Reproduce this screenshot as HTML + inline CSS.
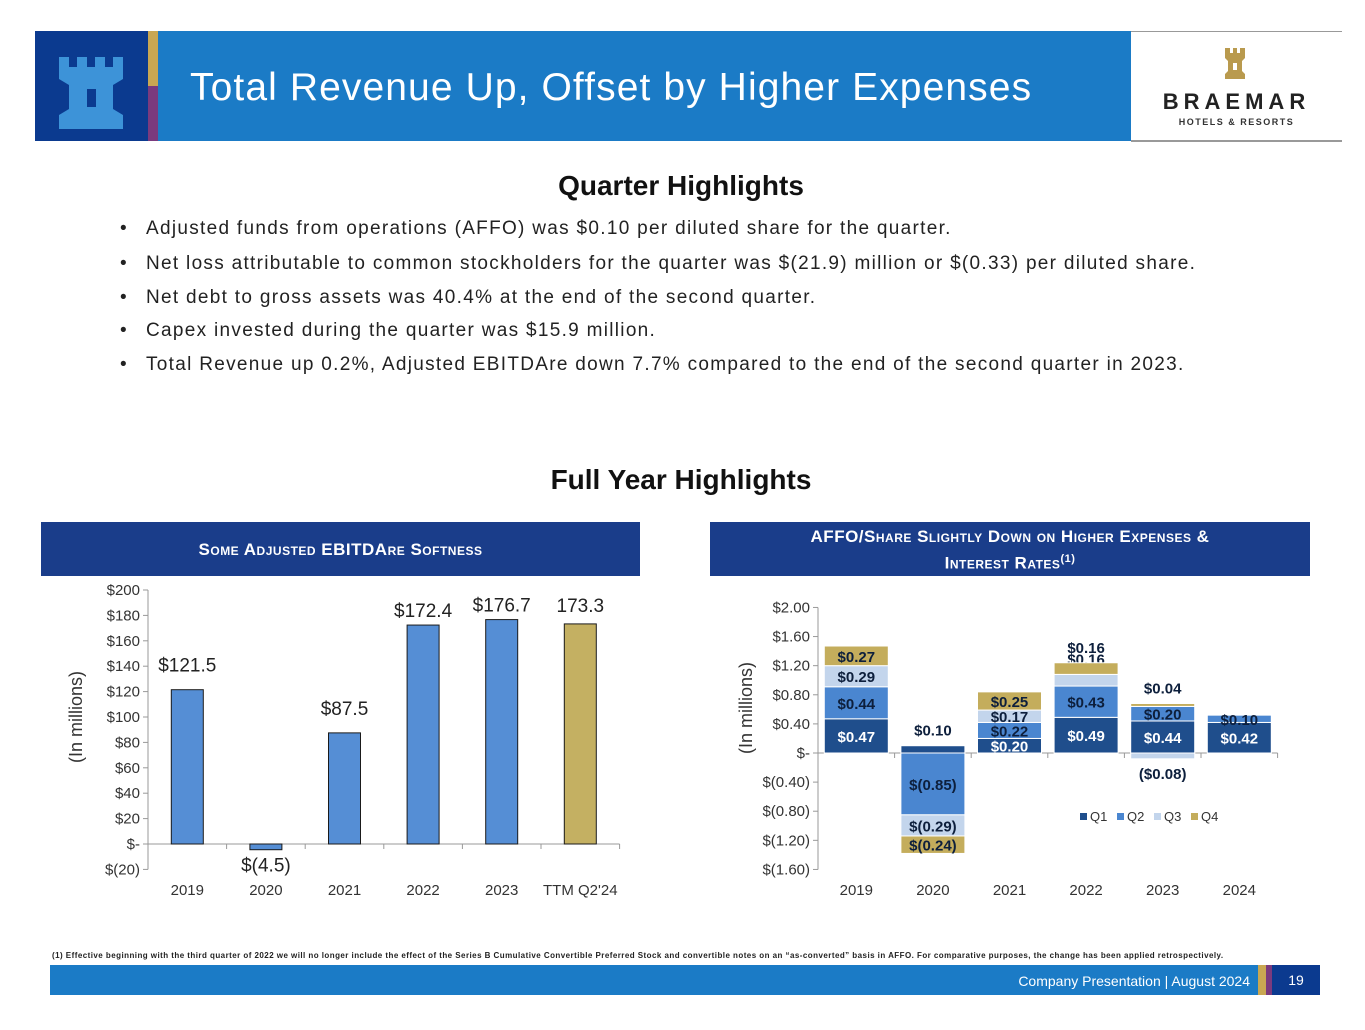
<!DOCTYPE html>
<html><head><meta charset="utf-8">
<style>
body{margin:0;width:1365px;height:1030px;background:#fff;position:relative;overflow:hidden;font-family:"Liberation Sans",sans-serif;}
.abs{position:absolute;}
.bul{position:absolute;left:120px;font-size:19px;color:#222;white-space:nowrap;}
.bul span{position:absolute;left:26px;letter-spacing:1.3px;}
.sec{position:absolute;background:#1a3d8a;color:#fff;font-weight:bold;text-align:center;font-size:17px;font-variant:small-caps;letter-spacing:0.5px;}
</style></head><body>
<div class="abs" style="left:35px;top:31px;width:113px;height:110px;background:#0b3a8f;">
<svg width="113" height="110"><path d="M24 26h10v10h8v-10h10v10h8v-10h10v10h8v-10h10v22l-10 6v24l10 6v14H24V84l10-6V54l-10-6z" fill="#3d93d8"/><rect x="52" y="58" width="9" height="18" fill="#0b3a8f"/></svg></div>
<div class="abs" style="left:148px;top:31px;width:10px;height:55px;background:#c9a752;"></div>
<div class="abs" style="left:148px;top:86px;width:10px;height:55px;background:#7a3a7e;"></div>
<div class="abs" style="left:158px;top:31px;width:973px;height:110px;background:#1b7bc6;"></div>
<div class="abs" style="left:190px;top:66px;font-size:39px;color:#fff;white-space:nowrap;letter-spacing:1.1px;">Total Revenue Up, Offset by Higher Expenses</div>
<div class="abs" style="left:1131px;top:31px;width:211px;height:108px;border-top:1px solid #999;border-bottom:2px solid #999;background:#fff;">
<svg class="abs" style="left:89px;top:14px" width="30" height="34"><path d="M5 2h5v5h3V2h4v5h3V2h5v10l-3 3v10l3 3v5H5v-5l3-3V15l-3-3z" fill="#b99a4e"/><rect x="13" y="17" width="4" height="7" fill="#fff"/></svg>
<div class="abs" style="left:0;width:211px;top:57px;text-align:center;font-size:22px;font-weight:bold;letter-spacing:5px;color:#222;">BRAEMAR</div>
<div class="abs" style="left:0;width:211px;top:85px;text-align:center;font-size:9px;font-weight:bold;letter-spacing:1.5px;color:#333;">HOTELS &amp; RESORTS</div>
</div>

<div class="abs" style="left:0;width:1362px;top:170px;text-align:center;font-size:28px;font-weight:bold;color:#111;">Quarter Highlights</div>
<div class="bul" style="top:218px">•<span>Adjusted funds from operations (AFFO) was $0.10 per diluted share for the quarter.</span></div>
<div class="bul" style="top:253px">•<span>Net loss attributable to common stockholders for the quarter was $(21.9) million or $(0.33) per diluted share.</span></div>
<div class="bul" style="top:287px">•<span>Net debt to gross assets was 40.4% at the end of the second quarter.</span></div>
<div class="bul" style="top:320px">•<span>Capex invested during the quarter was $15.9 million.</span></div>
<div class="bul" style="top:354px">•<span>Total Revenue up 0.2%, Adjusted EBITDAre down 7.7% compared to the end of the second quarter in 2023.</span></div>
<div class="abs" style="left:0;width:1362px;top:464px;text-align:center;font-size:28px;font-weight:bold;color:#111;">Full Year Highlights</div>

<div class="sec" style="left:41px;top:522px;width:599px;height:54px;line-height:56px;">Some Adjusted EBITDAre Softness</div>
<div class="sec" style="left:710px;top:522px;width:600px;height:54px;line-height:22px;padding-top:4px;box-sizing:border-box;">AFFO/Share Slightly Down on Higher Expenses &amp;<br>Interest Rates<sup style="font-size:11px">(1)</sup></div>

<svg class="abs" style="left:0;top:0" width="1365" height="1030" id="charts"></svg>

<div class="abs" style="left:52px;top:951px;font-size:8px;font-weight:bold;color:#222;white-space:nowrap;letter-spacing:0.45px;">(1) Effective beginning with the third quarter of 2022 we will no longer include the effect of the Series B Cumulative Convertible Preferred Stock and convertible notes on an “as-converted” basis in AFFO. For comparative purposes, the change has been applied retrospectively.</div>
<div class="abs" style="left:50px;top:965px;width:1208px;height:30px;background:#1b7bc6;"></div>
<div class="abs" style="left:900px;width:350px;top:973px;text-align:right;font-size:14px;color:#fff;">Company Presentation | August 2024</div>
<div class="abs" style="left:1258px;top:965px;width:8px;height:30px;background:#c9a752;"></div>
<div class="abs" style="left:1266px;top:965px;width:6px;height:30px;background:#7a3a7e;"></div>
<div class="abs" style="left:1272px;top:965px;width:48px;height:30px;background:#0b3a8f;color:#fff;font-size:14px;text-align:center;line-height:30px;">19</div>

<script>
// Left chart data
const ebCats = ["2019","2020","2021","2022","2023","TTM Q2'24"];
const ebVals = [121.5,-4.5,87.5,172.4,176.7,173.3];
const ebLabels = ["$121.5","$(4.5)","$87.5","$172.4","$176.7","173.3"];
const ebTicks = [200,180,160,140,120,100,80,60,40,20,0,-20];
const ebTickLabels = ["$200","$180","$160","$140","$120","$100","$80","$60","$40","$20","$-","$(20)"];
// Right chart data
const afCats = ["2019","2020","2021","2022","2023","2024"];
const afQ1 = [0.47,0.10,0.20,0.49,0.44,0.42];
const afQ2 = [0.44,-0.85,0.22,0.43,0.20,0.10];
const afQ3 = [0.29,-0.29,0.17,0.16,-0.08,null];
const afQ4 = [0.27,-0.24,0.25,0.16,0.04,null];
const afL1 = ["$0.47","$0.10","$0.20","$0.49","$0.44","$0.42"];
const afL2 = ["$0.44","$(0.85)","$0.22","$0.43","$0.20","$0.10"];
const afL3 = ["$0.29","$(0.29)","$0.17","$0.16","($0.08)",""];
const afL4 = ["$0.27","$(0.24)","$0.25","$0.16","$0.04",""];
const afTicks = [2,1.6,1.2,0.8,0.4,0,-0.4,-0.8,-1.2,-1.6];
const afTickLabels = ["$2.00","$1.60","$1.20","$0.80","$0.40","$-","$(0.40)","$(0.80)","$(1.20)","$(1.60)"];

const NS="http://www.w3.org/2000/svg";
const svg=document.getElementById('charts');
function mk(t,a,txt){const e=document.createElementNS(NS,t);for(const k in a)e.setAttribute(k,a[k]);if(txt!==undefined)e.textContent=txt;svg.appendChild(e);return e;}

// left axes
const ly=v=>844-(v)*(844-590)/200;
const lx0=148,lBand=78.6;const lx=i=>lx0+lBand*(i+0.5);
let e=mk('line',{x1:lx0,y1:ly(200),x2:lx0,y2:ly(-20),stroke:'#999'});

e=mk('line',{x1:lx0,y1:ly(0),x2:lx0+lBand*6,y2:ly(0),stroke:'#999'});

ebTicks.forEach((t,i)=>{
  e=mk('line',{x1:lx0-5,y1:ly(t),x2:lx0,y2:ly(t),stroke:'#999'});
  
  e=mk('text',{x:lx0-8,y:ly(t)+5,'text-anchor':'end','font-size':15,fill:'#333','font-family':'Liberation Sans'},ebTickLabels[i]);
  
});
for(let i=0;i<=6;i++){e=mk('line',{x1:lx0+lBand*i,y1:ly(0),x2:lx0+lBand*i,y2:ly(0)+5,stroke:'#999'});
  }
ebCats.forEach((c,i)=>{
  const v=ebVals[i];const y=Math.min(ly(v),ly(0)),h=Math.abs(ly(v)-ly(0));
  e=mk('rect',{x:lx(i)-16,y:y,width:32,height:h,fill:i==5?'#c4b062':'#558ed5',stroke:'#1a1a1a','stroke-width':1});
  
  const labY = v>=0 ? ly(v)-(i>=3?8:18) : ly(v)+22;
  e=mk('text',{x:lx(i),y:i==5?ly(v)-12:(i==4?ly(v)-8:labY),'text-anchor':'middle','font-size':19,fill:'#222','font-family':'Liberation Sans'},ebLabels[i]);
  
  e=mk('text',{x:lx(i),y:895,'text-anchor':'middle','font-size':15,fill:'#333','font-family':'Liberation Sans'},c);
  
});
e=mk('text',{x:0,y:0,'text-anchor':'middle','font-size':18,fill:'#333',transform:'translate(82,717) rotate(-90)','font-family':'Liberation Sans'},'(In millions)');


// right chart
const ry=v=>753-v*(869-607)/3.6;
const rx0=818,rBand=76.6;const rx=i=>rx0+rBand*(i+0.5);
e=mk('line',{x1:rx0,y1:ry(2),x2:rx0,y2:ry(-1.6),stroke:'#999'});

e=mk('line',{x1:rx0,y1:ry(0),x2:rx0+rBand*6,y2:ry(0),stroke:'#999'});

afTicks.forEach((t,i)=>{
  e=mk('line',{x1:rx0-5,y1:ry(t),x2:rx0,y2:ry(t),stroke:'#999'});
  
  e=mk('text',{x:rx0-8,y:ry(t)+5,'text-anchor':'end','font-size':15,fill:'#333','font-family':'Liberation Sans'},afTickLabels[i]);
  
});
for(let i=0;i<=6;i++){e=mk('line',{x1:rx0+rBand*i,y1:ry(0),x2:rx0+rBand*i,y2:ry(0)+5,stroke:'#999'});
  }
const series=[afQ1,afQ2,afQ3,afQ4],labs=[afL1,afL2,afL3,afL4];
const cols=['#1f4e8c','#4a86d0','#c3d5ec','#c4ad5c'];
afCats.forEach((c,i)=>{
  let pos=0,neg=0;
  series.forEach((s,q)=>{
    const v=s[i]; if(v===null)return;
    let a,b; if(v>=0){a=pos;b=pos+v;pos=b;}else{a=neg;b=neg+v;neg=b;}
    const y=Math.min(ry(a),ry(b)),h=Math.abs(ry(a)-ry(b));
    e=mk('rect',{x:rx(i)-32,y:y,width:64,height:h,fill:cols[q],stroke:'#fff','stroke-width':1});
    
    let ty=(ry(a)+ry(b))/2+6;
    let outside = h<12 && q!=1;
    if(outside){ty = v>=0 ? ry(b)-10 : ry(b)+20;}
    e=mk('text',{x:rx(i),y:ty,'text-anchor':'middle','font-size':15,'font-weight':'bold',fill:(q==0&&!outside)?'#fff':'#0d1f3c','font-family':'Liberation Sans'},labs[q][i]);
    
  });
  e=mk('text',{x:rx(i),y:895,'text-anchor':'middle','font-size':15,fill:'#333','font-family':'Liberation Sans'},c);
  
});
e=mk('text',{x:0,y:0,'text-anchor':'middle','font-size':18,fill:'#333',transform:'translate(752,708) rotate(-90)','font-family':'Liberation Sans'},'(In millions)');

['Q1','Q2','Q3','Q4'].forEach((q,k)=>{
  const x=1080+k*37;
  e=mk('rect',{x:x,y:813,width:7,height:7,fill:cols[k]});
  
  e=mk('text',{x:x+10,y:821,'font-size':13,fill:'#333','font-family':'Liberation Sans'},q);
  
});
</script>
</body></html>
